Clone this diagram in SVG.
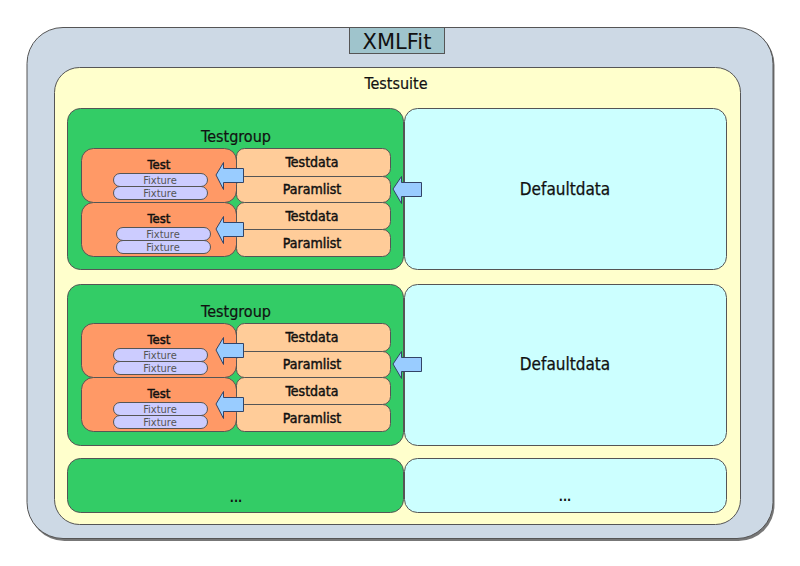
<svg xmlns="http://www.w3.org/2000/svg" width="800" height="566" viewBox="0 0 800 566">
<style>
text{font-family:"DejaVu Sans Condensed","DejaVu Sans",sans-serif;fill:#111;text-anchor:middle}
.ln{stroke:#555;stroke-width:1}
.outer{fill:#cdd9e5}
.suite{fill:#ffffcc}
.grp{fill:#33cc66}
.def{fill:#ccffff}
.test{fill:#ff9966}
.data{fill:#ffcc99}
.fix{fill:#ccccff}
.arr{fill:#99ccff;stroke:#334466;stroke-width:1}
.big{font-size:16px;stroke:#111;stroke-width:0.2}
.tb{font-size:13px;stroke:#111;stroke-width:0.45}
.db{font-size:14px;stroke:#111;stroke-width:0.45}
.fx{font-size:11px;fill:#555}
.dd{font-size:17px;stroke:#111;stroke-width:0.25}
.dots{font-size:12px;font-weight:bold}
</style>
<rect width="800" height="566" fill="#ffffff"/>
<g id="xmlfit">
  <rect x="28.5" y="29" width="746" height="512" rx="36" fill="#777"/>
  <rect class="outer ln" x="27" y="27.5" width="746" height="511" rx="36"/>
  <rect x="349.5" y="27.5" width="95" height="26" fill="#9fc4cc" stroke="#555"/>
  <text x="397" y="49" style="font-family:'DejaVu Sans',sans-serif;font-size:21px">XMLFit</text>
</g>
<g id="testsuite">
  <rect class="suite ln" x="54.5" y="67.5" width="686" height="457" rx="25"/>
  <text class="big" x="396" y="89">Testsuite</text>
</g>
<g id="testgroup1">
  <rect class="grp ln" x="67.5" y="108.5" width="336" height="161" rx="13"/>
  <text class="big" x="236" y="142">Testgroup</text>
</g>
<g id="defaultdata1">
  <rect class="def ln" x="404.5" y="108.5" width="322" height="161" rx="13"/>
  <text class="dd" x="565" y="195">Defaultdata</text>
</g>
<g id="test1a">
  <rect class="test ln" x="81.5" y="148.5" width="155" height="54" rx="12"/>
  <text class="tb" x="159" y="169">Test</text>
  <rect class="fix ln" x="113.5" y="173.5" width="94" height="13" rx="6.5"/>
  <text class="fx" x="160" y="184">Fixture</text>
  <rect class="fix ln" x="113.5" y="186.5" width="94" height="13" rx="6.5"/>
  <text class="fx" x="160" y="197">Fixture</text>
</g>
<g id="test1b">
  <rect class="test ln" x="81.5" y="202.5" width="155" height="54" rx="12"/>
  <text class="tb" x="159" y="223">Test</text>
  <rect class="fix ln" x="116.5" y="227.5" width="94" height="13" rx="6.5"/>
  <text class="fx" x="163" y="238">Fixture</text>
  <rect class="fix ln" x="116.5" y="240.5" width="94" height="13" rx="6.5"/>
  <text class="fx" x="163" y="251">Fixture</text>
</g>
<g id="data1a">
  <rect class="data ln" x="236.5" y="148.5" width="154" height="28" rx="8"/>
  <text class="db" x="312" y="167">Testdata</text>
  <rect class="data ln" x="236.5" y="176.5" width="154" height="26" rx="8"/>
  <text class="db" x="312" y="194">Paramlist</text>
</g>
<g id="data1b">
  <rect class="data ln" x="236.5" y="202.5" width="154" height="27" rx="8"/>
  <text class="db" x="312" y="221">Testdata</text>
  <rect class="data ln" x="236.5" y="229.5" width="154" height="27" rx="8"/>
  <text class="db" x="312" y="248">Paramlist</text>
</g>
<g id="testgroup2">
  <rect class="grp ln" x="67.5" y="284.5" width="336" height="161" rx="13"/>
  <text class="big" x="236" y="317">Testgroup</text>
</g>
<g id="defaultdata2">
  <rect class="def ln" x="404.5" y="284.5" width="322" height="161" rx="13"/>
  <text class="dd" x="565" y="370">Defaultdata</text>
</g>
<g id="test2a">
  <rect class="test ln" x="81.5" y="323.5" width="155" height="54" rx="12"/>
  <text class="tb" x="159" y="344">Test</text>
  <rect class="fix ln" x="113.5" y="348.5" width="94" height="13" rx="6.5"/>
  <text class="fx" x="160" y="359">Fixture</text>
  <rect class="fix ln" x="113.5" y="361.5" width="94" height="13" rx="6.5"/>
  <text class="fx" x="160" y="372">Fixture</text>
</g>
<g id="test2b">
  <rect class="test ln" x="81.5" y="377.5" width="155" height="54" rx="12"/>
  <text class="tb" x="159" y="398">Test</text>
  <rect class="fix ln" x="113.5" y="402.5" width="94" height="13" rx="6.5"/>
  <text class="fx" x="160" y="413">Fixture</text>
  <rect class="fix ln" x="113.5" y="415.5" width="94" height="13" rx="6.5"/>
  <text class="fx" x="160" y="426">Fixture</text>
</g>
<g id="data2a">
  <rect class="data ln" x="236.5" y="323.5" width="154" height="28" rx="8"/>
  <text class="db" x="312" y="342">Testdata</text>
  <rect class="data ln" x="236.5" y="351.5" width="154" height="26" rx="8"/>
  <text class="db" x="312" y="369">Paramlist</text>
</g>
<g id="data2b">
  <rect class="data ln" x="236.5" y="377.5" width="154" height="27" rx="8"/>
  <text class="db" x="312" y="396">Testdata</text>
  <rect class="data ln" x="236.5" y="404.5" width="154" height="27" rx="8"/>
  <text class="db" x="312" y="423">Paramlist</text>
</g>
<g id="testgroup3">
  <rect class="grp ln" x="67.5" y="458.5" width="336" height="54" rx="13"/>
  <text class="dots" x="236" y="502">...</text>
</g>
<g id="defaultdata3">
  <rect class="def ln" x="404.5" y="458.5" width="322" height="54" rx="13"/>
  <text class="dots" x="565" y="501">...</text>
</g>
<g id="connectors">
  <polygon class="arr" points="216,175 223.5,162.5 223.5,168.5 243.5,168.5 243.5,182.5 223.5,182.5 223.5,189.5"/>
  <polygon class="arr" points="216,229 223.5,216.5 223.5,222.5 243.5,222.5 243.5,236.5 223.5,236.5 223.5,243.5"/>
  <polygon class="arr" points="393,189 401.5,176.5 401.5,182.5 421.5,182.5 421.5,196.5 401.5,196.5 401.5,203.5"/>
  <polygon class="arr" points="216,350 223.5,337.5 223.5,343.5 243.5,343.5 243.5,357.5 223.5,357.5 223.5,364.5"/>
  <polygon class="arr" points="216,404 223.5,391.5 223.5,397.5 243.5,397.5 243.5,411.5 223.5,411.5 223.5,418.5"/>
  <polygon class="arr" points="393,364 401.5,351.5 401.5,357.5 421.5,357.5 421.5,371.5 401.5,371.5 401.5,378.5"/>
</g>
</svg>
